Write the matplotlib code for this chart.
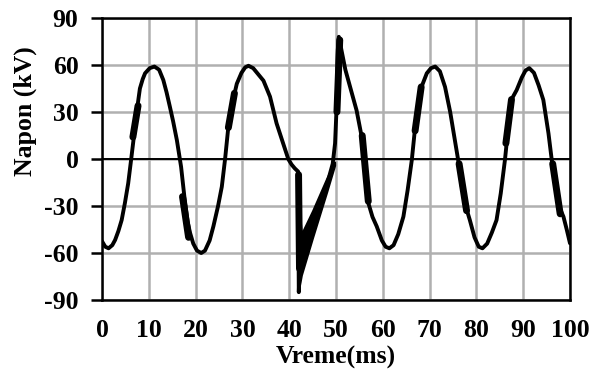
import matplotlib
matplotlib.use("Agg")
import matplotlib.pyplot as plt
import numpy as np

# ---- data ----
t_ms = [0, 0.7, 1.4, 2.2, 2.8, 3.5, 4.2, 4.9, 5.6, 6.3, 6.9, 7.5, 8.1, 8.7, 9.2, 10.2, 11.2,
        12.2, 13.1, 13.8, 14.5, 15.2, 16.0, 16.9, 17.6, 18.3, 18.8, 19.5, 20.3, 21.2, 22.0, 23.0,
        23.8, 24.8, 25.6, 26.3, 27.0, 27.8, 28.8, 29.8, 30.6, 31.3, 32.3, 33.4, 34.5, 35.9,
        37.3, 38.7, 39.8, 40.5, 41.2, 41.9, 42.05, 42.3, 45.0, 48.0, 49.3, 49.8, 50.1, 50.4,
        50.6, 51.0, 52.0, 53.2, 54.4, 55.5, 56.2, 56.9, 57.8, 58.7, 59.8, 60.6, 61.4, 62.3,
        63.3, 64.4, 65.3, 66.2, 66.9, 67.7, 68.4, 69.4, 70.3, 71.2, 72.2, 73.3, 74.4, 75.4,
        76.1, 76.9, 77.9, 78.6, 79.6, 80.5, 81.3, 82.3, 83.3, 84.3, 85.2, 86.1, 86.8, 87.5,
        88.6, 89.7, 90.5, 91.3, 92.3, 93.3, 94.3, 95.4, 96.1, 97.0, 97.9, 98.6, 99.3, 100]
napon_kv = [-52.5, -56, -57, -55, -51.7, -46, -39, -28, -15.5, 1.5, 16.4, 32, 45, 51, 54.7, 58, 59,
            57, 50.4, 42.5, 33.4, 24, 12, -5, -24, -40, -47, -54, -58.5, -60, -58.5, -52,
            -43, -30, -17.7, 0, 20.6, 35, 48, 55, 58.5, 59.5, 58, 54, 50, 39.8,
            22.8, 10, 0, -3.5, -6, -8, -85, -62, -41, -17, -3, 10, 31, 70,
            78, 72, 57, 44, 31, 14, -5, -28, -37, -43, -52, -56, -57, -55,
            -48, -36.8, -20, -0.6, 20, 35, 47, 54.7, 58, 59, 56, 46, 30, 12,
            -0.6, -18, -32, -39, -50, -56, -57, -54, -47, -39, -22, -0.6, 20, 38,
            44, 52, 56.5, 58, 55, 47, 37.7, 16.4, -0.6, -20, -32, -36.8, -45, -53.8]

# thick (high-frequency oscillation) segments: start/end points
band_t0 = [6.6, 17.2, 27.0, 50.2, 55.6, 66.9, 76.3, 86.3, 96.3, 42.0]
band_v0 = [14, -24, 20, 30, 15, 18, -3, 10, -3, -10]
band_t1 = [7.7, 18.5, 28.3, 50.8, 56.9, 68.2, 77.9, 87.5, 97.9, 42.2]
band_v1 = [34, -50, 42, 76, -27, 46, -33, 38, -35, -70]

# transient wedge after the switching event
wedge_t = [42.1, 42.6, 45.0, 48.0, 49.7]
wedge_lo = [-82, -74, -50, -21, -4]
wedge_hi = [-30, -48, -33, -12.5, -2]

x_ticks = [0, 10, 20, 30, 40, 50, 60, 70, 80, 90, 100]
y_ticks = [-90, -60, -30, 0, 30, 60, 90]

# ---- drawing ----
plt.rcParams['font.family'] = ['Liberation Serif', 'DejaVu Serif']
plt.rcParams['font.weight'] = 'bold'
plt.rcParams['axes.unicode_minus'] = False

fig = plt.figure(figsize=(5.92, 3.79), dpi=100)
ax = fig.add_axes([102/592, 1-300/379, 468/592, 282/379])

ax.set_xlim(0, 100)
ax.set_ylim(-90, 90)
ax.set_xticks(x_ticks)
ax.set_yticks(y_ticks)
ax.grid(True, color='#b0b0b0', linewidth=1.8)
ax.set_axisbelow(True)
ax.axhline(0, color='black', linewidth=1.4, zorder=2)

ax.plot(t_ms, napon_kv, color='black', linewidth=2.8, zorder=3,
        solid_joinstyle='round', solid_capstyle='round')
for a, b, c, d in zip(band_t0, band_t1, band_v0, band_v1):
    ax.plot([a, b], [c, d], color='black', linewidth=5, zorder=3, solid_capstyle='round')
ax.fill_between(wedge_t, wedge_lo, wedge_hi, color='black', linewidth=1.5,
                edgecolor='black', zorder=3)

for s in ax.spines.values():
    s.set_linewidth(1.8)
    s.set_color('black')

ax.tick_params(axis='x', length=0, pad=14, labelsize=18.5)
ax.tick_params(axis='y', length=8, width=1.8, pad=9, labelsize=18.5, direction='out')
for lab in ax.get_xticklabels() + ax.get_yticklabels():
    lab.set_fontweight('bold')

ax.set_xlabel('Vreme(ms)', fontsize=18.5, fontweight='bold')
ax.xaxis.set_label_coords(0.5, -0.205, transform=ax.transAxes)
ax.xaxis.label.set_va('center')
ax.set_ylabel('Napon (kV)', fontsize=18.5, fontweight='bold')
ax.yaxis.set_label_coords(-0.163, 0.67)
ax.yaxis.label.set_va('center')

fig.savefig('out.png', dpi=100)
